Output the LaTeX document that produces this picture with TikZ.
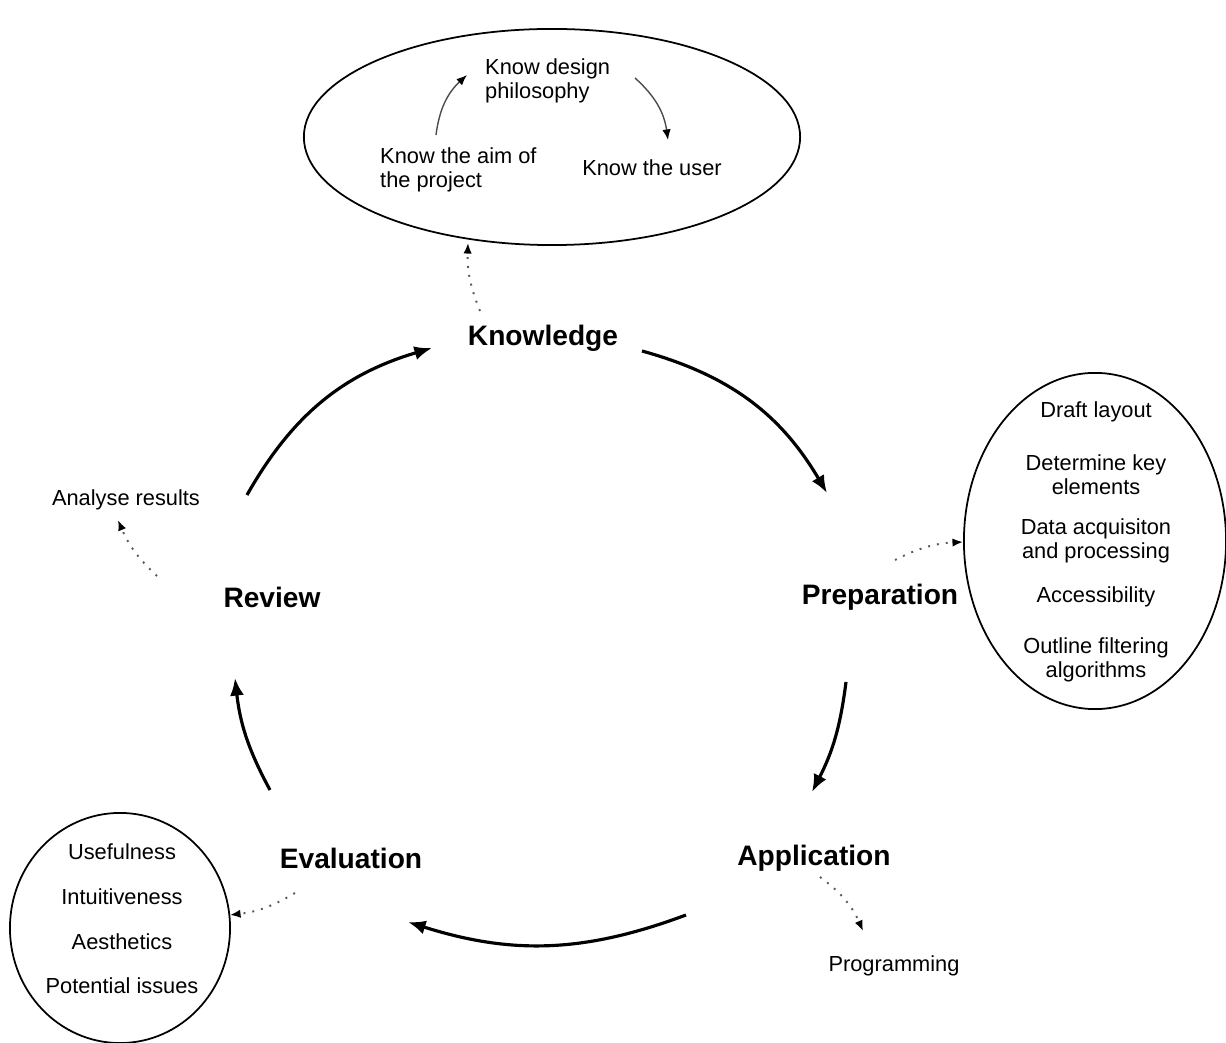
\documentclass[tikz,border=0pt]{standalone}
\usepackage{fontspec}
\setmainfont{Liberation Sans}
\usetikzlibrary{arrows.meta,positioning,shapes.geometric}
\tikzset{
  phase/.style={font=\fontsize{8}{9.6}\selectfont\bfseries},
  task/.style={font=\fontsize{6.2}{6.9}\selectfont,align=center,inner sep=1pt},
  bubble/.style={draw,ellipse,line width=0.5pt,inner sep=0pt},
  flow/.style={line width=0.9pt,-{Latex[length=5pt,width=4pt]}},
  hint/.style={black!65,dotted,line width=0.55pt,-{Latex[length=3pt,width=2.4pt,color=black]}},
  lead/.style={gray!60!black,line width=0.4pt,-{Latex[length=3pt,width=2.4pt,color=black]}},
}
\begin{document}
\begin{tikzpicture}[x=0.01cm,y=-0.01cm]
  \useasboundingbox (0,0) rectangle (1226,1043);
  % the five phases
  \node[phase] (know) at (543,338) {Knowledge};
  \node[phase] (prep) at (880,597) {Preparation};
  \node[phase] (appl) at (814,858) {Application};
  \node[phase] (eval) at (351,858) {Evaluation};
  \node[phase] (rev) at (272,597) {Review};
  % main cycle
  \coordinate (r1) at (247,495); \coordinate (k0) at (432,348);
  \coordinate (k1) at (642,351); \coordinate (p0) at (827,493);
  \coordinate (p1) at (846,682); \coordinate (a0) at (812,792);
  \coordinate (a1) at (686,915); \coordinate (e0) at (408,922);
  \coordinate (e1) at (270,790); \coordinate (r0) at (235,678);
  \draw[flow] (r1) to[bend left=22] (k0);
  \draw[flow] (k1) to[bend left=22] (p0);
  \draw[flow] (p1) to[bend left=10] (a0);
  \draw[flow] (a1) to[bend left=19] (e0);
  \draw[flow] (e1) to[bend left=11] (r0);
  % knowledge bubble
  \node[bubble,minimum width=4.96cm,minimum height=2.16cm] (kb) at (552,137) {};
  \node[task,align=left,anchor=west] (kdes) at (481,81) {Know design\\philosophy};
  \node[task,align=left,anchor=west] (kaim) at (376,170) {Know the aim of\\the project};
  \node[task] (kuser) at (652,168) {Know the user};
  \coordinate (s1) at (436,135); \coordinate (t1) at (467,75);
  \coordinate (s2) at (635,78); \coordinate (t2) at (668,140);
  \draw[lead] (s1) to[bend left=20] (t1);
  \draw[lead] (s2) to[bend left=20] (t2);
  \coordinate (kh) at (480,311); \coordinate (kt) at (468,243);
  \draw[hint] (kh) to[bend left=12] (kt);
  % preparation bubble
  \node[bubble,minimum width=2.62cm,minimum height=3.36cm] (pb) at (1095,541) {};
  \node[task] (p1t) at (1096,412) {Draft layout};
  \node[task] (p2t) at (1096,475) {Determine key\\elements};
  \node[task] (p3t) at (1096,541) {Data acquisiton\\and processing};
  \node[task] (p4t) at (1096,597) {Accessibility};
  \node[task] (p5t) at (1096,660) {Outline filtering\\algorithms};
  \coordinate (ph) at (895,560); \coordinate (pt) at (963,542);
  \draw[hint] (ph) to[bend left=12] (pt);
  % application
  \node[task] (prog) at (894,966) {Programming};
  \coordinate (ah) at (820,877); \coordinate (at) at (863,931);
  \draw[hint] (ah) to[bend left=15] (at);
  % evaluation bubble
  \node[bubble,minimum width=2.2cm,minimum height=2.3cm] (eb) at (120,928) {};
  \foreach \t [count=\i] in {Usefulness,Intuitiveness,Aesthetics,Potential issues}
    \node[task] (e\i t) at (122,{852+44.7*(\i-1)}) {\t};
  \coordinate (eh) at (295,893); \coordinate (et) at (230,915);
  \draw[hint] (eh) to[bend left=12] (et);
  % review
  \node[task] (anal) at (126,500) {Analyse results};
  \coordinate (rh) at (157,576); \coordinate (rt) at (118,520);
  \draw[hint] (rh) to[bend left=12] (rt);
\end{tikzpicture}
\end{document}
